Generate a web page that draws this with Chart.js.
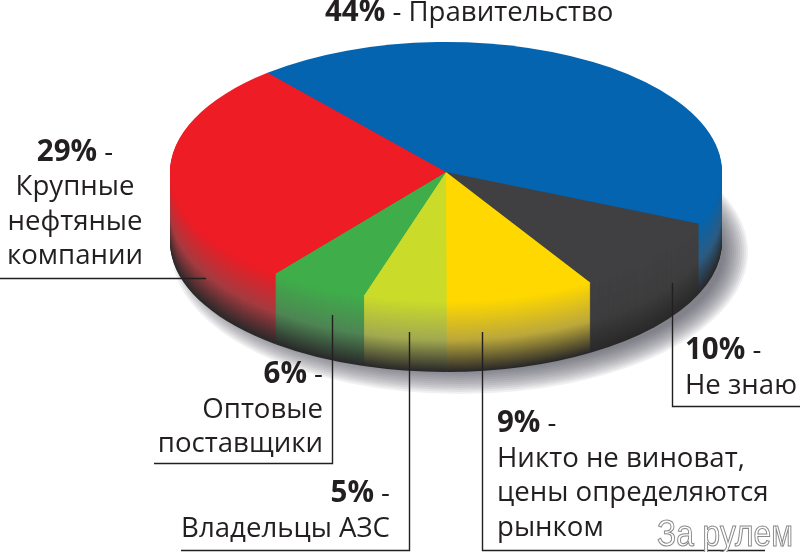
<!DOCTYPE html>
<html lang="ru"><head><meta charset="utf-8">
<style>html,body{margin:0;padding:0;background:#fff}canvas{display:block}</style>
<script src="https://cdn.jsdelivr.net/npm/chart.js@4"></script></head>
<body><canvas id="c" width="800" height="552"></canvas>
<script>
const categories = ['Правительство','Не знаю','Никто не виноват, цены определяются рынком','Владельцы АЗС','Оптовые поставщики','Крупные нефтяные компании'];
const shares = [44,10,9,5,6,29];
const colors = ['#0464b0','#404042','#ffd800','#cbdb2a','#3fae4a','#ee1c25'];
const FONT = '"Open Sans"';
const SIZE = 27.6;
const BOLD = 29.5;
const INK = '#231f20';
const CX=446, CY=172, RY=130, DEPTH=70;

const labelBlocks = [
 {i:0,x:325,y:21,lh:0,align:'left',inline:true,lines:['Правительство']},
 {i:5,x:75,y:161,lh:34.3,align:'center',lines:['Крупные','нефтяные','компании']},
 {i:4,x:323,y:383,lh:34.5,align:'right',lines:['Оптовые','поставщики']},
 {i:3,x:390,y:502,lh:35,align:'right',lines:['Владельцы АЗС']},
 {i:2,x:497,y:432,lh:34.7,align:'left',lines:['Никто не виноват,','цены определяются','рынком']},
 {i:1,x:685,y:359,lh:34.5,align:'left',lines:['Не знаю']}
];
const leaders = [
 [[0,278.5],[206,278.5]],
 [[332.5,315],[332.5,463.5],[154,463.5]],
 [[409.5,332],[409.5,550.5],[181,550.5]],
 [[482.5,332],[482.5,550.5],[765,550.5]],
 [[672.5,283],[672.5,406.5],[800,406.5]]
];

function hex(c){return [1,3,5].map(i=>parseInt(c.substr(i,2),16));}
function mix(a,b,t){return a.map((v,i)=>v+(b[i]-v)*t);}
function wallColor(c,t){
  const base=hex(c), lum=(base[0]+base[1]+base[2])/3, g=Math.min(120,lum*0.9);
  const mid=mix(base,[g,g,g],0.5), end=[42,41,42];
  const m=t<0.55?mix(base,mid,t/0.55):mix(mid,end,(t-0.55)/0.45);
  return 'rgb('+m.map(Math.round).join(',')+')';
}
function enter(ctx,arc,dy){
  ctx.translate(CX,CY+dy);
  ctx.scale(1,RY/arc.outerRadius);
  ctx.translate(-arc.x,-arc.y);
}
const tilt={
  id:'tilt',
  beforeDatasetsDraw(chart){
    const ctx=chart.ctx, arcs=chart.getDatasetMeta(0).data, a0=arcs[0];
    ctx.save();
    ctx.fillStyle='rgba(70,70,78,0.08)';
    for(let s=12;s>=-12;s-=2){
      ctx.beginPath();
      ctx.ellipse(CX+14,CY+DEPTH+10,a0.outerRadius+s,RY+s,0,0,Math.PI*2);
      ctx.fill();
    }
    ctx.restore();
    for(let d=DEPTH;d>=1;d--){
      arcs.forEach((a,i)=>{
        ctx.save();enter(ctx,a,d);
        ctx.fillStyle=wallColor(colors[i],d/DEPTH);
        ctx.beginPath();ctx.moveTo(a.x,a.y);ctx.arc(a.x,a.y,a.outerRadius,a.startAngle,a.endAngle);ctx.closePath();
        ctx.fill();ctx.restore();
      });
    }
    ctx.save();enter(ctx,a0,0);
  },
  afterDatasetsDraw(chart){chart.ctx.restore();},
  afterDraw(chart){
    const ctx=chart.ctx;
    ctx.save();
    ctx.strokeStyle=INK;ctx.lineWidth=1.4;
    leaders.forEach(l=>{ctx.beginPath();l.forEach((p,k)=>k?ctx.lineTo(p[0],p[1]):ctx.moveTo(p[0],p[1]));ctx.stroke();});
    ctx.fillStyle=INK;ctx.textBaseline='alphabetic';
    labelBlocks.forEach(b=>{
      const pct=shares[b.i]+'%', dash=' -';
      const bold='bold '+BOLD+'px '+FONT, reg=SIZE+'px '+FONT;
      ctx.font=bold;const wb=ctx.measureText(pct).width;
      ctx.font=reg;const wd=ctx.measureText(dash).width;
      if(b.inline){
        ctx.textAlign='left';
        ctx.font=bold;ctx.fillText(pct,b.x,b.y);
        ctx.font=reg;ctx.fillText(dash+' '+b.lines[0],b.x+wb,b.y);
        return;
      }
      const w=wb+wd;
      let x0=b.align==='left'?b.x:b.align==='right'?b.x-w:b.x-w/2;
      ctx.textAlign='left';
      ctx.font=bold;ctx.fillText(pct,x0,b.y);
      ctx.font=reg;ctx.fillText(dash,x0+wb,b.y);
      ctx.textAlign=b.align;
      b.lines.forEach((t,k)=>ctx.fillText(t,b.x,b.y+b.lh*(k+1)));
    });
    ctx.font='30px "Liberation Sans"';ctx.textAlign='left';
    ctx.lineWidth=0.9;ctx.strokeStyle='#8a8a8a';ctx.fillStyle='#fff';
    const wm='За рулем', tw=ctx.measureText(wm).width;
    ctx.translate(657,546);ctx.scale(136/tw,1.2);
    ctx.fillText(wm,0,0);ctx.strokeText(wm,0,0);
    ctx.restore();
  }
};
new Chart(document.getElementById('c'),{
  type:'pie',
  data:{labels:categories,datasets:[{data:shares,backgroundColor:colors,borderWidth:0}]},
  options:{responsive:false,animation:false,devicePixelRatio:1,rotation:-40.3,
    layout:{padding:0},
    plugins:{legend:{display:false},tooltip:{enabled:false},title:{display:false}}},
  plugins:[tilt]
});
</script></body></html>
